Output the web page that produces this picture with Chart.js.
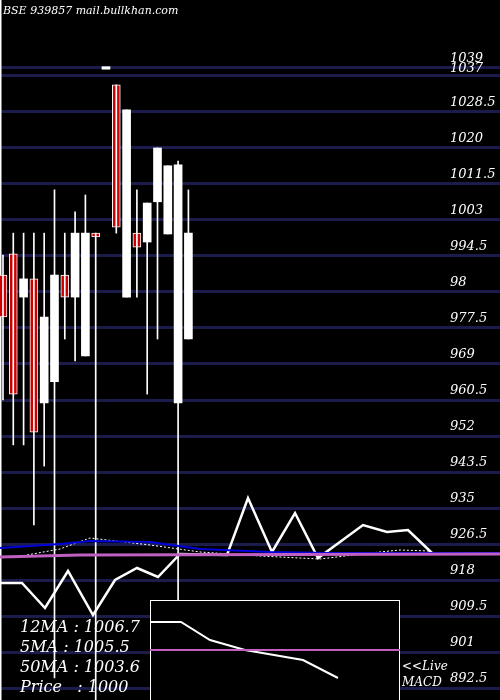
<!DOCTYPE html>
<html>
<head>
<script src="https://cdn.jsdelivr.net/npm/chart.js@4"></script>
<style>
  body { margin: 0; background: #000; }
  #wrap { width: 500px; height: 700px; }
</style>
</head>
<body>
<div id="wrap"><canvas id="c"></canvas></div>
<script>
// price candles, one per session
const highs  = [994.7, 999.9, 999.9, 999.9, 999.9, 1010.1, 999.9, 1004.9, 1008.9, 999.9, 1038.9, 1034.9, 1029.0, 1010.1, 1007.0, 1020.0, 1015.8, 1016.9, 1010.1];
const lows   = [960.5, 949.9, 949.9, 931.0, 944.9, 894.9, 974.9, 969.7, 970.9, 889.0, 1038.9, 999.9, 984.8, 984.8, 961.9, 974.9, 999.7, 913.3, 974.9];
const opens  = [990.0, 995.0, 984.8, 989.1, 959.8, 964.8, 990.0, 984.8, 970.9, 999.9, 1038.6, 1034.9, 984.8, 999.9, 997.8, 1007.3, 999.7, 959.8, 974.9];
const closes = [980.1, 961.9, 989.1, 952.9, 980.1, 990.0, 984.8, 999.9, 999.9, 999.0, 1039.2, 1001.3, 1029.0, 996.6, 1007.0, 1020.0, 1015.8, 1016.0, 999.9];

const gridValues = [1039, 1037, 1028.5, 1020, 1011.5, 1003, 994.5, 986, 977.5, 969, 960.5, 952, 943.5, 935, 926.5, 918, 909.5, 901, 892.5];
const tickLabels = ['1039', '1037', '1028.5', '1020', '1011.5', '1003', '994.5', '98', '977.5', '969', '960.5', '952', '943.5', '935', '926.5', '918', '909.5', '901', '892.5'];

// MACD panel (time position, level)
const macdX   = [0, 22, 45, 68, 93, 115, 137, 158, 180, 227, 248, 272, 295, 318, 363, 387, 408, 432];
const macdY   = [117, 117, 92, 129, 85, 120, 132, 123, 146, 145, 202, 148, 187, 142, 175, 168, 170, 147];
const blueX   = [0, 60, 90, 150, 200, 270, 330, 500];
const blueY   = [152, 156, 159, 158, 151, 148, 147, 147];
const pinkX   = [0, 80, 500];
const pinkY   = [143, 145, 146];
const dotX    = [27, 60, 90, 150, 200, 260, 320, 370, 400, 430];
const dotY    = [145, 151, 162, 155, 148, 144, 141, 147, 150, 149];
const insetX  = [150, 181, 210, 245, 303, 338];
const insetY  = [78, 78, 60, 50, 40, 22];
const insetPinkX = [150, 400];
const insetPinkY = [50, 50];

const legendLines = ['12MA : 1006.7', '5MA : 1005.5', '50MA : 1003.6', 'Price   : 1000'];

const pts = (xs, ys) => xs.map((x, i) => ({ x, y: ys[i] }));
const isRed = opens.map((o, i) => o > closes[i]);

const overlay = {
  id: 'overlay',
  beforeDatasetsDraw(chart) {
    const { ctx } = chart;
    const x2 = chart.scales.x2, y2 = chart.scales.y2;
    ctx.save();
    ctx.fillStyle = '#000';
    ctx.strokeStyle = '#fff';
    ctx.lineWidth = 1;
    const l = x2.getPixelForValue(150), r = x2.getPixelForValue(400), t = y2.getPixelForValue(100);
    ctx.fillRect(l, t, r - l, 700 - t);
    ctx.strokeRect(l + 0.5, t + 0.5, r - l - 1, 700 - t);
    ctx.fillStyle = '#fff';
    ctx.fillRect(0, 0, 1.5, 700);
    ctx.restore();
  },
  afterDatasetsDraw(chart) {
    const { ctx } = chart;
    const y = chart.scales.y;
    ctx.save();
    ctx.fillStyle = '#fff';
    ctx.font = 'italic 13px "DejaVu Serif"';
    tickLabels.forEach((t, i) => ctx.fillText(t, 450, y.getPixelForValue(gridValues[i]) - 4 - (i === 1 ? 0 : 2)));
    ctx.font = 'italic 11px "DejaVu Serif"';
    ctx.fillText('BSE 939857 mail.bullkhan.com', 3, 14);
    ctx.font = 'italic 16px "DejaVu Serif"';
    legendLines.forEach((t, i) => ctx.fillText(t, 20, 632 + i * 20));
    ctx.font = 'italic 12px "DejaVu Serif"';
    ctx.fillText('<<Live', 402, 670);
    ctx.fillText('MACD', 402, 686);
    ctx.restore();
  }
};

const line = (xs, ys, color, width, dash) => ({
  type: 'line', data: pts(xs, ys), xAxisID: 'x2', yAxisID: 'y2',
  borderColor: color, borderWidth: width, borderDash: dash || [],
  pointRadius: 0, tension: 0, fill: false
});

new Chart(document.getElementById('c'), {
  type: 'bar',
  data: {
    datasets: [
      line(pinkX, pinkY, '#c060c0', 3),
      line(blueX, blueY, '#0000dd', 2),
      line(dotX, dotY, '#ffffff', 1, [2, 2]),
      line(macdX, macdY, '#ffffff', 2.5),
      line(insetPinkX, insetPinkY, '#c060c0', 2),
      line(insetX, insetY, '#ffffff', 2),
      {
        data: highs.map((h, i) => ({ x: i, y: [lows[i], h] })),
        backgroundColor: '#fff', barThickness: 1, grouped: false
      },
      {
        data: opens.map((o, i) => ({ x: i, y: [Math.min(o, closes[i]), Math.max(o, closes[i])] })),
        backgroundColor: isRed.map(r => r ? '#cc0000' : '#ffffff'),
        borderColor: '#ffffff', borderWidth: isRed.map(r => r ? 1 : 0),
        borderSkipped: false, barThickness: 8, grouped: false
      }
    ]
  },
  options: {
    responsive: true, maintainAspectRatio: false, animation: false,
    layout: { padding: 0 },
    plugins: { legend: { display: false }, tooltip: { enabled: false } },
    scales: {
      x: { type: 'linear', min: -0.29, max: 48.25, offset: false, display: false },
      y: {
        min: 889.67, max: 1054.94,
        afterBuildTicks: s => { s.ticks = gridValues.map(v => ({ value: v })); },
        grid: { color: '#1c1c4c', lineWidth: 3, drawTicks: false },
        border: { display: false },
        ticks: { display: false }
      },
      x2: { type: 'linear', min: 0, max: 500, offset: false, display: false },
      y2: { type: 'linear', min: 0, max: 700, display: false }
    }
  },
  plugins: [overlay]
});
</script>
</body>
</html>
